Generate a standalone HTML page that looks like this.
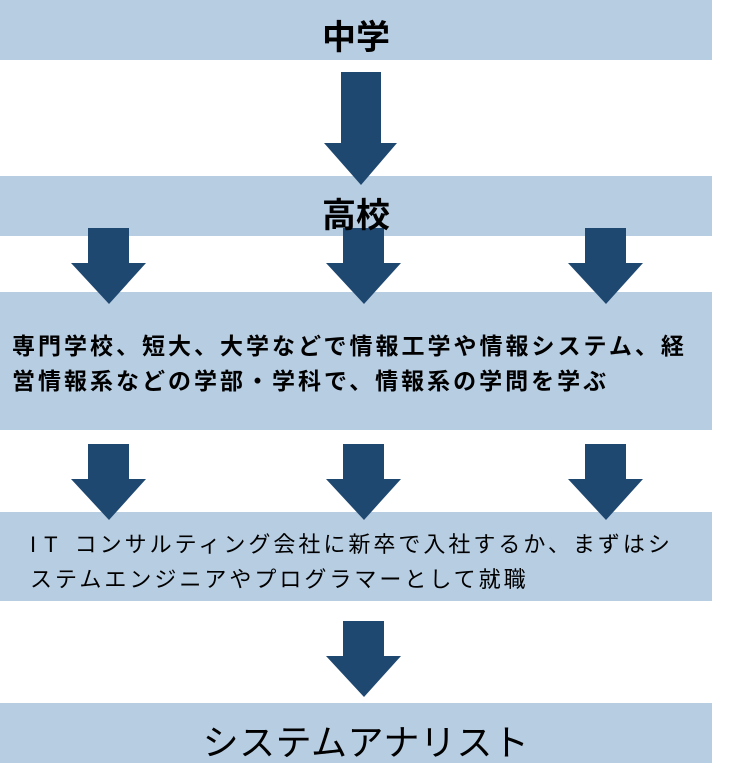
<!DOCTYPE html>
<html><head><meta charset="utf-8"><style>
body{margin:0;width:736px;height:764px;background:#fff;position:relative;overflow:hidden;font-family:"Liberation Sans","Noto Sans CJK JP",sans-serif;}
.bar{position:absolute;left:0;width:712px;background:#b7cde2;}
.t{position:absolute;color:#000;white-space:nowrap;}
svg{position:absolute;left:0;top:0;}
</style></head><body>
<div class="bar" style="top:0;height:60px"></div>
<div class="bar" style="top:176px;height:60px"></div>
<div class="bar" style="top:292px;height:138px"></div>
<div class="bar" style="top:512px;height:89px"></div>
<div class="bar" style="top:703px;height:60px"></div>
<svg width="736" height="764" fill="#1f4871">
<polygon points="341,72 381,72 381,143 397,143 361,185 324,143 341,143"/>
<polygon points="88,228 129,228 129,263 146,263 109,304 71,263 88,263"/>
<polygon points="343,228 384,228 384,263 401,263 364,304 326,263 343,263"/>
<polygon points="585,228 626,228 626,263 643,263 606,304 568,263 585,263"/>
<polygon points="88,444 129,444 129,479 146,479 109,520 71,479 88,479"/>
<polygon points="343,444 384,444 384,479 401,479 364,520 326,479 343,479"/>
<polygon points="585,444 626,444 626,479 643,479 606,520 568,479 585,479"/>
<polygon points="343,621 384,621 384,656 401,656 364,697 326,656 343,656"/>
</svg>
<div class="t" style="left:0;width:712px;text-align:center;top:10px;font-size:34px;font-weight:bold;">中学</div>
<div class="t" style="left:0;width:712px;text-align:center;top:188px;font-size:34px;font-weight:bold;">高校</div>
<div class="t" style="left:12px;top:329px;font-size:23px;letter-spacing:3px;font-weight:bold;line-height:35px;">専門学校、短大、大学などで情報工学や情報システム、経<br>営情報系などの学部・学科で、情報系の学問を学ぶ</div>
<div class="t" style="left:30px;top:527px;font-size:22px;letter-spacing:3px;line-height:35px;"><span style="letter-spacing:8px">IT</span>&nbsp;コンサルティング会社に新卒で入社するか、まずはシ<br>ステムエンジニアやプログラマーとして就職</div>
<div class="t" style="left:10px;width:712px;text-align:center;top:714px;font-size:36px;letter-spacing:0.5px;">システムアナリスト</div>
</body></html>
